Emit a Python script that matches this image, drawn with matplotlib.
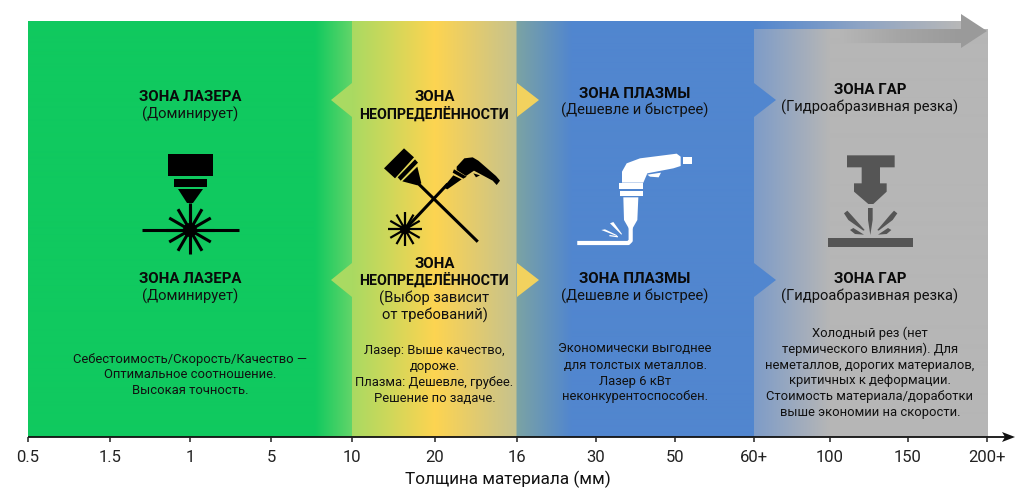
import numpy as np
import matplotlib
matplotlib.use("Agg")
import matplotlib.pyplot as plt
from matplotlib.colors import to_rgb
from matplotlib.patches import Polygon, Rectangle, Circle

plt.rcParams['font.family'] = ['Roboto', 'DejaVu Sans']

tick_labels = ["0.5", "1.5", "1", "5", "10", "20", "16", "30", "50", "60+", "100", "150", "200+"]
tick_px = [28, 110, 190, 271, 352, 435, 517, 596, 675, 754, 830, 908, 987]
axis_title = "Толщина материала (мм)"

# (x, y, text, bold)
zone_texts = [
    (190, 96.5, "ЗОНА ЛАЗЕРА", True), (190, 114.5, "(Доминирует)", False),
    (190, 278.5, "ЗОНА ЛАЗЕРА", True), (190, 296.5, "(Доминирует)", False),
    (434.5, 97, "ЗОНА", True), (434.5, 114.5, "НЕОПРЕДЕЛЁННОСТИ", True),
    (434.5, 263.5, "ЗОНА", True), (434.5, 280.5, "НЕОПРЕДЕЛЁННОСТИ", True),
    (434.5, 298, "(Выбор зависит", False), (434.5, 315.5, "от требований)", False),
    (635, 93.5, "ЗОНА ПЛАЗМЫ", True), (635, 110.5, "(Дешевле и быстрее)", False),
    (635, 278.5, "ЗОНА ПЛАЗМЫ", True), (635, 296.5, "(Дешевле и быстрее)", False),
    (870, 89.5, "ЗОНА ГАР", True), (870, 107.5, "(Гидроабразивная резка)", False),
    (870, 278.5, "ЗОНА ГАР", True), (870, 296.5, "(Гидроабразивная резка)", False),
]
desc_texts = [
    (190, 359, "Себестоимость/Скорость/Качество —"), (190, 374, "Оптимальное соотношение."),
    (190, 390, "Высокая точность."),
    (434.5, 350, "Лазер: Выше качество,"), (434.5, 366, "дороже."),
    (434.5, 382, "Плазма: Дешевле, грубее."), (434.5, 398, "Решение по задаче."),
    (635, 348, "Экономически выгоднее"), (635, 365, "для толстых металлов."),
    (635, 381, "Лазер 6 кВт"), (635, 396, "неконкурентоспособен."),
    (870, 333, "Холодный рез (нет"), (870, 349, "термического влияния). Для"),
    (870, 365, "неметаллов, дорогих материалов,"), (870, 380, "критичных к деформации."),
    (870, 396, "Стоимость материала/доработки"), (870, 412, "выше экономии на скорости."),
]

GREEN, YELLOW, BLUE, GRAY = "#10C95F", "#FDD451", "#5186CF", "#B6B6B6"
stops = [(28, GREEN), (315, GREEN), (352, "#62D569"), (352.01, "#A9DA62"), (435, YELLOW),
         (516, "#C6C28E"), (517, "#7BA3A4"), (572, BLUE), (754, BLUE), (754.01, "#7E9CC8"),
         (830, GRAY), (987, GRAY)]

fig = plt.figure(figsize=(10.24, 4.98), dpi=100, facecolor="white")
ax = fig.add_axes([0, 0, 1, 1])
ax.axis("off")

xs = np.arange(28, 988) + 0.5
sx = [s[0] for s in stops]
rgb = np.array([to_rgb(s[1]) for s in stops])
grad = np.stack([np.interp(xs, sx, rgb[:, i]) for i in range(3)], axis=1)[None, :, :]
ax.imshow(grad, extent=(28, 988, 437, 29), aspect="auto", interpolation="bilinear", zorder=1)

# upper strip of the band: same colours up to the gray zone, then fading into the arrow
xa = np.arange(28, 962) + 0.5
grad_top = np.stack([np.interp(xa, sx[:9] + [860, 961],
                               list(rgb[:9, i]) + [to_rgb("#8EA4C4")[i], to_rgb("#B8B8B8")[i]])
                     for i in range(3)], axis=1)[None, :, :]
ax.imshow(grad_top, extent=(28, 962, 29, 21), aspect="auto", interpolation="bilinear", zorder=3)
xb = np.arange(840, 962) + 0.5
body = np.stack([np.interp(xb, [840, 900, 961], [to_rgb(GRAY)[i], to_rgb("#A5A5A5")[i], to_rgb("#9A9A9A")[i]])
                 for i in range(3)], axis=1)[None, :, :]
ax.imshow(body, extent=(840, 962, 43, 29), aspect="auto", zorder=3)
ax.add_patch(Polygon([(961, 14), (987, 31), (961, 48)], fc="#9A9A9A", ec="none", zorder=3))
ax.set_xlim(0, 1024)
ax.set_ylim(498, 0)

for yc in (100, 280):
    ax.add_patch(Polygon([(352, yc-17), (331, yc), (352, yc+17)], fc="#A9DA62", ec="none", zorder=2))
    ax.add_patch(Polygon([(517, yc-17), (539, yc), (517, yc+17)], fc="#F2D25E", ec="none", zorder=2))
    ax.add_patch(Polygon([(754, yc-17), (776, yc), (754, yc+17)], fc=BLUE, ec="none", zorder=2))

def burst(cx, cy, r, lw, core, n=12, c="#000000"):
    for i in range(n):
        a = 2*np.pi*i/n
        ax.plot([cx, cx+r*np.cos(a)], [cy, cy+r*np.sin(a)], color=c, lw=lw, solid_capstyle="butt", zorder=5)
    ax.add_patch(Circle((cx, cy), core, fc=c, ec="none", zorder=5))

K = "#000000"
ax.add_patch(Rectangle((168, 154), 45, 22, fc=K, ec="none", zorder=5))
ax.add_patch(Rectangle((174, 179), 33, 8, fc=K, ec="none", zorder=5))
ax.add_patch(Polygon([(178, 189), (203, 189), (193, 203), (187, 203)], fc=K, ec="none", zorder=5))
ax.plot([190, 190], [203, 230], color=K, lw=2.2, zorder=5, solid_capstyle="butt")
ax.plot([142, 239], [230, 230], color=K, lw=2.2, zorder=5, solid_capstyle="butt")
burst(190, 230, 24, 2.2, 7)

def Z(pts):
    return [(330+x/3, 70+y/3) for x, y in pts]
ax.add_patch(Polygon(Z([(222, 235), (252, 262), (195, 325), (162, 295)]), fc=K, ec="none", zorder=5))
ax.add_patch(Polygon(Z([(255, 268), (264, 278), (212, 332), (203, 322)]), fc=K, ec="none", zorder=5))
ax.add_patch(Polygon(Z([(262, 290), (274, 340), (262, 346), (217, 334)]), fc=K, ec="none", zorder=5))
ax.plot(*zip(*Z([(262, 338), (440, 512)])), color=K, lw=2.2, zorder=5)
ax.plot(*zip(*Z([(225, 478), (350, 345)])), color=K, lw=2.2, zorder=5)
ax.add_patch(Polygon(Z([(340, 352), (370, 316), (395, 328), (352, 358)]), fc=K, ec="none", zorder=5))
ax.add_patch(Polygon(Z([(372, 298), (410, 320), (400, 326), (368, 308)]), fc=K, ec="none", zorder=5))
ax.add_patch(Polygon(Z([(380, 290), (403, 265), (428, 262), (445, 272), (498, 318), (510, 332),
                        (500, 345), (488, 332), (432, 302), (408, 318), (380, 300)]), fc=K, ec="none", zorder=5))
ax.add_patch(Polygon(Z([(430, 310), (450, 316), (438, 322)]), fc=K, ec="none", zorder=5))
cx, cy = Z([(225, 478)])[0]
burst(cx, cy, 17, 1.6, 5)

def P(pts):
    return [(560+x/3, 140+y/3) for x, y in pts]
W = "#FFFFFF"
ax.add_patch(Polygon(P([(186, 128), (186, 95), (200, 70), (240, 55), (350, 41), (362, 50), (362, 78),
                        (340, 85), (262, 100), (250, 128)]), fc=W, ec="none", zorder=5))
ax.add_patch(Polygon(P([(262, 104), (303, 98), (296, 112), (270, 110)]), fc=W, ec="none", zorder=5))
ax.add_patch(Rectangle((560+370/3, 140+52/3), 27/3, 20/3, fc=W, ec="none", zorder=5))
ax.add_patch(Rectangle((560+177/3, 140+130/3), 73/3, 16/3, fc=W, ec="none", zorder=5))
ax.add_patch(Rectangle((560+180/3, 140+152/3), 68/3, 17/3, fc=W, ec="none", zorder=5))
ax.add_patch(Polygon(P([(190, 172), (235, 172), (232, 240), (216, 268), (208, 268), (192, 240)]), fc=W, ec="none", zorder=5))
ax.plot(*zip(*P([(58, 309), (205, 309), (212, 302), (212, 268)])), color=W, lw=3, zorder=5)
ax.add_patch(Polygon(P([(124, 270), (135, 268), (172, 286), (170, 288)]), fc=W, ec="none", zorder=5))
ax.add_patch(Polygon(P([(150, 250), (160, 246), (186, 282), (184, 284)]), fc=W, ec="none", zorder=5))
ax.plot(*zip(*P([(150, 287), (172, 290)])), color=W, lw=0.9, zorder=5)

def J(pts):
    return [(740+x/3, y/3) for x, y in pts]
D = "#555555"
ax.add_patch(Polygon(J([(321, 466), (464, 466), (464, 502), (420, 502), (420, 550), (440, 550), (440, 575),
                        (400, 612), (385, 612), (342, 575), (342, 550), (365, 550), (365, 502), (321, 502)]),
                     fc=D, ec="none", zorder=5))
ax.add_patch(Polygon(J([(384, 624), (398, 624), (398, 660), (391, 705), (384, 660)]), fc=D, ec="none", zorder=5))
ax.add_patch(Polygon(J([(264, 715), (520, 715), (520, 742), (264, 742)]), fc=D, ec="none", zorder=5))
ax.add_patch(Polygon(J([(312, 640), (322, 632), (334, 645), (374, 690), (370, 692), (325, 660)]), fc=D, ec="none", zorder=5))
ax.add_patch(Polygon(J([(472, 640), (462, 632), (450, 645), (412, 690), (416, 692), (458, 660)]), fc=D, ec="none", zorder=5))
ax.add_patch(Polygon(J([(330, 690), (340, 684), (372, 704), (345, 702)]), fc=D, ec="none", zorder=5))
ax.add_patch(Polygon(J([(454, 690), (444, 684), (414, 704), (440, 702)]), fc=D, ec="none", zorder=5))

TXT = "#111111"
for x, y, s, bold in zone_texts:
    size = 10.8 if bold else 10.6
    if s == "НЕОПРЕДЕЛЁННОСТИ":
        size = 10.3
    ax.text(x, y, s, ha="center", va="center", fontsize=size, color="#0A0A0A" if bold else TXT,
            fontweight="bold" if bold else "normal", zorder=6)
for x, y, s in desc_texts:
    ax.text(x, y, s, ha="center", va="center", fontsize=9.4, color=TXT, zorder=6)

ax.plot([28, 1008], [437, 437], color="#111111", lw=1.3, zorder=7, solid_capstyle="butt")
ax.add_patch(Polygon([(1002, 432), (1015, 437), (1002, 442), (1005, 437)], fc="#111111", ec="none", zorder=7))
for x, s in zip(tick_px, tick_labels):
    ax.plot([x, x], [437, 442], color="#222222", lw=1.1, zorder=7, solid_capstyle="butt")
    ax.text(x, 457.5, s, ha="center", va="center", fontsize=12, color="#222222", zorder=7)
ax.text(508, 479, axis_title, ha="center", va="center", fontsize=12.3, color="#111111", zorder=7)

fig.savefig("out.png", dpi=100, facecolor="white")
